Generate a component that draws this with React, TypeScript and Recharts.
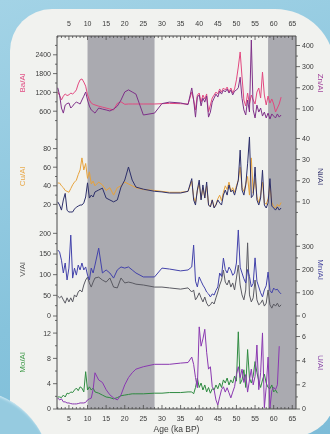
import React from 'react';
import { LineChart, Line, XAxis, YAxis, ReferenceArea } from 'recharts';

// age grid (ka BP) shared by every series
const ages = [
  2, 2.5, 3, 3.5, 4, 4.5, 5, 5.5, 6, 6.5, 7, 7.5, 8, 8.5, 9, 9.5, 10, 10.5, 11, 11.5, 12,
  13, 14, 15, 16, 17, 18, 19, 20, 21, 22, 23, 25, 28, 30, 32, 35, 37,
  38, 38.5, 39, 39.5, 40, 40.5, 41, 41.5, 42, 42.5, 43, 43.5, 44, 44.5, 45, 45.5, 46, 46.5,
  47, 47.5, 48, 48.5, 49, 49.5, 50, 50.5, 51, 51.5, 52, 52.5, 53, 53.5, 54, 54.5, 55, 55.5,
  56, 56.5, 57, 57.5, 58, 58.5, 59, 59.5, 60, 60.5, 61, 61.5, 62,
];

const baAl = [
  1210, 1100, 960, 1080, 1150, 1100, 1120, 1180, 1150, 1200, 1280, 1470, 1600, 1630, 1530, 1400, 1120, 960, 860, 820, 800,
  760, 730, 700, 670, 640, 850, 900, 820, 830, 830, 830, 830, 830, 840, 850, 840, 830,
  1210, 957, 640, 1116, 1180, 893, 1116, 990, 1150, 575, 800, 1020, 1116, 1210, 1150, 1310, 1210, 1340,
  1280, 1370, 1210, 1340, 1180, 1310, 1600, 2010, 2490, 1690, 957, 766, 1180, 830, 1116, 957, 830, 1210,
  1340, 1020, 1850, 1116, 800, 1085, 860, 990, 830, 575, 700, 830, 1050,
];
const znAl = [
  200, 165, 104, 80, 118, 125, 128, 104, 113, 125, 132, 128, 123, 142, 160, 180, 142, 113, 95, 88, 80,
  104, 99, 95, 90, 99, 113, 142, 180, 190, 180, 170, 71, 80, 125, 132, 128, 120,
  199, 142, 61, 156, 166, 114, 151, 132, 161, 61, 85, 132, 151, 170, 156, 184, 170, 189,
  180, 194, 175, 189, 166, 184, 189, 200, 250, 150, 95, 71, 142, 85, 426, 95, 57, 118,
  85, 104, 66, 85, 57, 80, 52, 76, 66, 57, 76, 61, 71,
];
const cuAl = [
  43, 43, 40, 38, 35, 34, 33, 37, 41, 44, 46, 52, 57, 70, 57, 64, 48, 55, 42, 45, 40,
  44, 41, 35, 38, 30, 38, 40, 44, 42, 40, 38, 36, 35, 34, 33, 33, 34,
  45, 28, 22, 35, 42, 26, 38, 27, 40, 20, 18, 25, 17, 20, 26, 30, 24, 33,
  40, 36, 44, 34, 38, 33, 40, 46, 60, 38, 34, 42, 50, 30, 70, 32, 48, 28,
  22, 30, 44, 22, 20, 26, 40, 22, 18, 16, 20, 18, 22,
];
const niAl = [
  10, 8.5, 6.1, 10.9, 14, 6, 5.2, 5.2, 5.2, 6.6, 7.5, 8, 8.5, 8.5, 9.5, 12.3, 19, 11.8, 13.2, 12.3, 14.7,
  15.6, 16.5, 11.8, 10.9, 10, 10.9, 17, 20.3, 26.5, 20.3, 17, 16, 15, 14.7, 14.2, 14.2, 15,
  21, 10.9, 8.5, 15.6, 20.3, 10.9, 18, 11.8, 19.4, 8.5, 7.6, 10.9, 7.1, 8.5, 10.9, 9.5, 8.5, 13.2,
  15.6, 13.2, 18, 14.7, 15.6, 13.2, 16.6, 20.3, 34.5, 15.6, 13.2, 18, 28, 40.7, 12, 13.2, 26.5, 10.9,
  8.5, 11.8, 25, 8.5, 7.1, 9.5, 21, 8, 7.1, 6.1, 7.6, 6.1, 7.1,
];
const vAl = [
  48, 44, 48, 39, 31, 44, 34, 44, 34, 51, 46, 58, 63, 58, 75, 87, 94, 80, 70, 82, 92,
  94, 87, 82, 92, 70, 68, 92, 80, 82, 80, 77, 75, 70, 70, 68, 65, 68,
  58, 63, 39, 46, 56, 44, 34, 46, 31, 24, 27, 34, 29, 44, 58, 75, 87, 111,
  82, 75, 87, 70, 80, 63, 92, 123, 75, 51, 39, 63, 177, 51, 34, 44, 87, 39,
  27, 31, 39, 24, 31, 63, 27, 19, 29, 24, 31, 22, 27,
];
const mnAl = [
  284, 275, 240, 185, 228, 155, 206, 348, 163, 206, 176, 219, 198, 228, 198, 211, 176, 155, 206, 185, 219,
  292, 185, 198, 185, 163, 198, 211, 206, 211, 198, 185, 168, 168, 206, 202, 194, 198,
  211, 305, 150, 125, 168, 150, 133, 120, 103, 95, 82, 95, 90, 110, 125, 185, 170, 249,
  200, 185, 210, 198, 175, 185, 228, 370, 210, 185, 160, 142, 200, 170, 125, 140, 250, 150,
  125, 100, 82, 112, 130, 189, 110, 99, 120, 112, 115, 103, 95,
];
const moAl = [
  1.9, 1.9, 1.8, 2.2, 1.9, 2.5, 2.4, 2.7, 2.6, 3.0, 3.3, 2.9, 3.5, 3.3, 2.7, 5.9, 3.0, 3.5, 3.0, 3.3, 2.7,
  2.5, 2.2, 1.9, 1.8, 1.6, 1.8, 2.1, 2.2, 2.3, 2.4, 2.4, 2.4, 2.5, 2.5, 2.6, 2.6, 2.7,
  2.7, 2.4, 3.4, 4.9, 3.4, 4.1, 3.0, 3.8, 2.7, 3.4, 2.5, 3.2, 3.0, 3.8, 3.2, 4.1, 3.4, 4.6,
  4.1, 4.9, 3.8, 4.6, 4.1, 5.2, 4.4, 12.2, 4.0, 4.6, 6.2, 3.4, 9.4, 4.9, 4.1, 5.2, 7.5, 5.8,
  4.4, 3.4, 4.6, 5.5, 4.1, 3.4, 3.2, 3.8, 2.7, 3.0, 2.5, null, null,
];
const uAl = [
  0.92, 0.75, 0.84, 0.59, 0.59, 0.5, 0.5, 0.45, 0.42, 0.42, 0.42, 0.45, 0.5, 0.5, 0.5, 0.55, 0.75, 0.84, 0.9, 1.6, 3.0,
  2.4, 2.2, 1.6, 1.17, 0.92, 0.75, 1.17, 2.0, 2.6, 3.0, 3.3, 3.5, 3.7, 3.7, 3.7, 3.8, 3.85,
  4.3, 3.7, 2.6, 1.76, 6.8, 5.2, 5.8, 6.6, 4.7, 3.3, 3.5, 1.84, 1.6, 0.75, 0.33, 1.0, 1.6, 1.84,
  1.4, 1.76, 1.34, 0.92, 1.4, 1.84, 2.85, 3.5, 2.6, 3.3, 2.2, 2.85, 1.4, 2.4, 3.3, 2.0, 2.7, 5.3,
  1.6, 3.0, 6.3, 0.1, 1.8, 4.3, 0.1, 1.5, 1.8, 1.6, 2.0, 5.2, null,
];

// shaded intervals (ka BP)
const bands = [
  [10, 28],
  [58.5, 66],
];

const ageMinor = Array.from({ length: 64 }, (_, i) => i + 2);

const rows = ages.map((age, i) => ({
  age,
  ba: baAl[i], zn: znAl[i],
  cu: cuAl[i], ni: niAl[i],
  v: vAl[i], mn: mnAl[i],
  mo: moAl[i], u: uAl[i],
}));

const AXIS = '#4a4a4a';
const TXT = '#3a3a3a';
const FONT = '"Liberation Sans", Arial, sans-serif';

const panels = [
  {
    top: 10, height: 120, topAxis: 26, bottomAxis: 0,
    left: { key: 'ba', name: 'Ba/Al', color: '#e2487f', label: '#e04a80', domain: [0, 3000], ticks: [600, 1200, 1800, 2400], minor: [300, 900, 1500, 2100, 2700] },
    right: { key: 'zn', name: 'Zn/Al', color: '#7e3088', label: '#a0409a', domain: [0, 445], ticks: [100, 200, 300, 400], minor: [50, 150, 250, 350] },
  },
  {
    top: 130, height: 93, topAxis: 0, bottomAxis: 0,
    left: { key: 'cu', name: 'Cu/Al', color: '#e6a23c', label: '#e8a848', domain: [0, 100], ticks: [20, 40, 60, 80], minor: [10, 30, 50, 70, 90] },
    right: { key: 'ni', name: 'Ni/Al', color: '#2c2f6a', label: '#3a3a72', domain: [0, 44], ticks: [10, 20, 30, 40], minor: [5, 15, 25, 35] },
  },
  {
    top: 223, height: 93, topAxis: 0, bottomAxis: 0,
    left: { key: 'v', name: 'V/Al', color: '#5a5a62', label: '#555555', domain: [0, 225], ticks: [0, 50, 100, 150, 200], minor: [25, 75, 125, 175] },
    right: { key: 'mn', name: 'Mn/Al', color: '#4242aa', label: '#4848a0', domain: [0, 400], ticks: [0, 100, 200, 300], minor: [50, 150, 250, 350] },
  },
  {
    top: 316, height: 118, topAxis: 0, bottomAxis: 25,
    left: { key: 'mo', name: 'Mo/Al', color: '#2e8a40', label: '#3f9a48', domain: [0, 14.7], ticks: [0, 4, 8, 12], minor: [2, 6, 10, 14] },
    right: { key: 'u', name: 'U/Al', color: '#8a38b0', label: '#8a48a8', domain: [0, 7.7], ticks: [0, 2, 4, 6], minor: [1, 3, 5, 7] },
  },
];

const AgeTick = (props: any) => {
  const { x, y, payload, side, labels } = props;
  const v = payload.value;
  const major = v % 5 === 0;
  const dir = side === 'top' ? 1 : -1;
  return (
    <g>
      <line x1={x} x2={x} y1={y} y2={y + dir * (major ? 4 : 2)} stroke={AXIS} strokeWidth={0.8} />
      {labels && major && (
        <text x={x} y={side === 'top' ? y - 10 : y + 12} textAnchor="middle" fontSize={7} fill={TXT} fontFamily={FONT}>
          {v}
        </text>
      )}
    </g>
  );
};

const ValueTick = (props: any) => {
  const { x, y, payload, side, labels } = props;
  const v = payload.value;
  const major = labels.includes(v);
  const dir = side === 'left' ? -1 : 1;
  return (
    <g>
      <line x1={x} x2={x + dir * (major ? 4 : 2)} y1={y} y2={y} stroke={AXIS} strokeWidth={0.8} />
      {major && (
        <text x={x + dir * 6} y={y} dy="0.35em" textAnchor={side === 'left' ? 'end' : 'start'} fontSize={7} fill={TXT} fontFamily={FONT}>
          {v}
        </text>
      )}
    </g>
  );
};

const Panel = ({ p, first, last }: any) => (
  <div style={{ position: 'absolute', left: 0, top: p.top, filter: 'blur(0.3px)' }}>
    <LineChart width={330} height={p.height} data={rows} margin={{ top: 0, right: 0, bottom: 0, left: 0 }}>
      <XAxis
        xAxisId="top" orientation="top" type="number" dataKey="age" domain={[1.8, 66]}
        ticks={ageMinor} interval={0} height={p.topAxis} tickSize={0} tickMargin={0} tickLine={false}
        axisLine={{ stroke: AXIS }}
        tick={(t: any) => <AgeTick {...t} side="top" labels={first} />}
      />
      <XAxis
        xAxisId="bottom" orientation="bottom" type="number" dataKey="age" domain={[1.8, 66]}
        ticks={ageMinor} interval={0} height={p.bottomAxis} tickSize={0} tickMargin={0} tickLine={false}
        axisLine={{ stroke: AXIS }}
        tick={(t: any) => <AgeTick {...t} side="bottom" labels={last} />}
        label={last ? { value: 'Age (ka BP)', position: 'insideBottom', offset: 2, fill: TXT, fontSize: 8.5, fontFamily: FONT } : undefined}
      />
      <YAxis
        yAxisId="left" orientation="left" type="number" width={57} domain={p.left.domain}
        ticks={[...p.left.ticks, ...p.left.minor]} interval={0} tickSize={0} tickMargin={0} tickLine={false}
        axisLine={{ stroke: AXIS }}
        tick={(t: any) => <ValueTick {...t} side="left" labels={p.left.ticks} />}
        label={{ value: p.left.name, angle: -90, position: 'insideLeft', offset: 22, fill: p.left.label, fontSize: 8, fontFamily: FONT, style: { textAnchor: 'middle' } }}
      />
      <YAxis
        yAxisId="right" orientation="right" type="number" width={34} domain={p.right.domain}
        ticks={[...p.right.ticks, ...p.right.minor]} interval={0} tickSize={0} tickMargin={0} tickLine={false}
        axisLine={{ stroke: AXIS }}
        tick={(t: any) => <ValueTick {...t} side="right" labels={p.right.ticks} />}
        label={{ value: p.right.name, angle: 90, position: 'insideRight', offset: 9, fill: p.right.label, fontSize: 8, fontFamily: FONT, style: { textAnchor: 'middle' } }}
      />
      {bands.map(([a, b], i) => (
        <ReferenceArea key={i} xAxisId="bottom" yAxisId="left" x1={a} x2={b} fill="#aaaab0" fillOpacity={1} stroke="none" ifOverflow="hidden" />
      ))}
      <Line xAxisId="bottom" yAxisId="left" dataKey={p.left.key} stroke={p.left.color} strokeWidth={1} dot={false} isAnimationActive={false} />
      <Line xAxisId="bottom" yAxisId="right" dataKey={p.right.key} stroke={p.right.color} strokeWidth={1} dot={false} isAnimationActive={false} />
    </LineChart>
  </div>
);

export default function App() {
  return (
    <div
      style={{
        position: 'fixed', left: 0, top: 0, width: 330, height: 434, overflow: 'hidden',
        background: 'linear-gradient(160deg, #a3d3e6 0%, #86c3dc 60%, #7dbcd8 100%)',
        fontFamily: FONT,
      }}
    >
      <style>{'.recharts-surface{overflow:visible}'}</style>
      <div style={{ position: 'absolute', left: 10, top: 9, width: 325, height: 427, background: '#f1f2ef', borderRadius: '42px 60px 40px 0' }} />
      <div style={{ position: 'absolute', left: -110, top: 390, width: 160, height: 160, borderRadius: '50%', background: '#96cbe0', boxShadow: 'inset 2px 2px 3px #d8eef6' }} />
      {panels.map((p, i) => (
        <Panel key={p.left.key} p={p} first={i === 0} last={i === panels.length - 1} />
      ))}
    </div>
  );
}
